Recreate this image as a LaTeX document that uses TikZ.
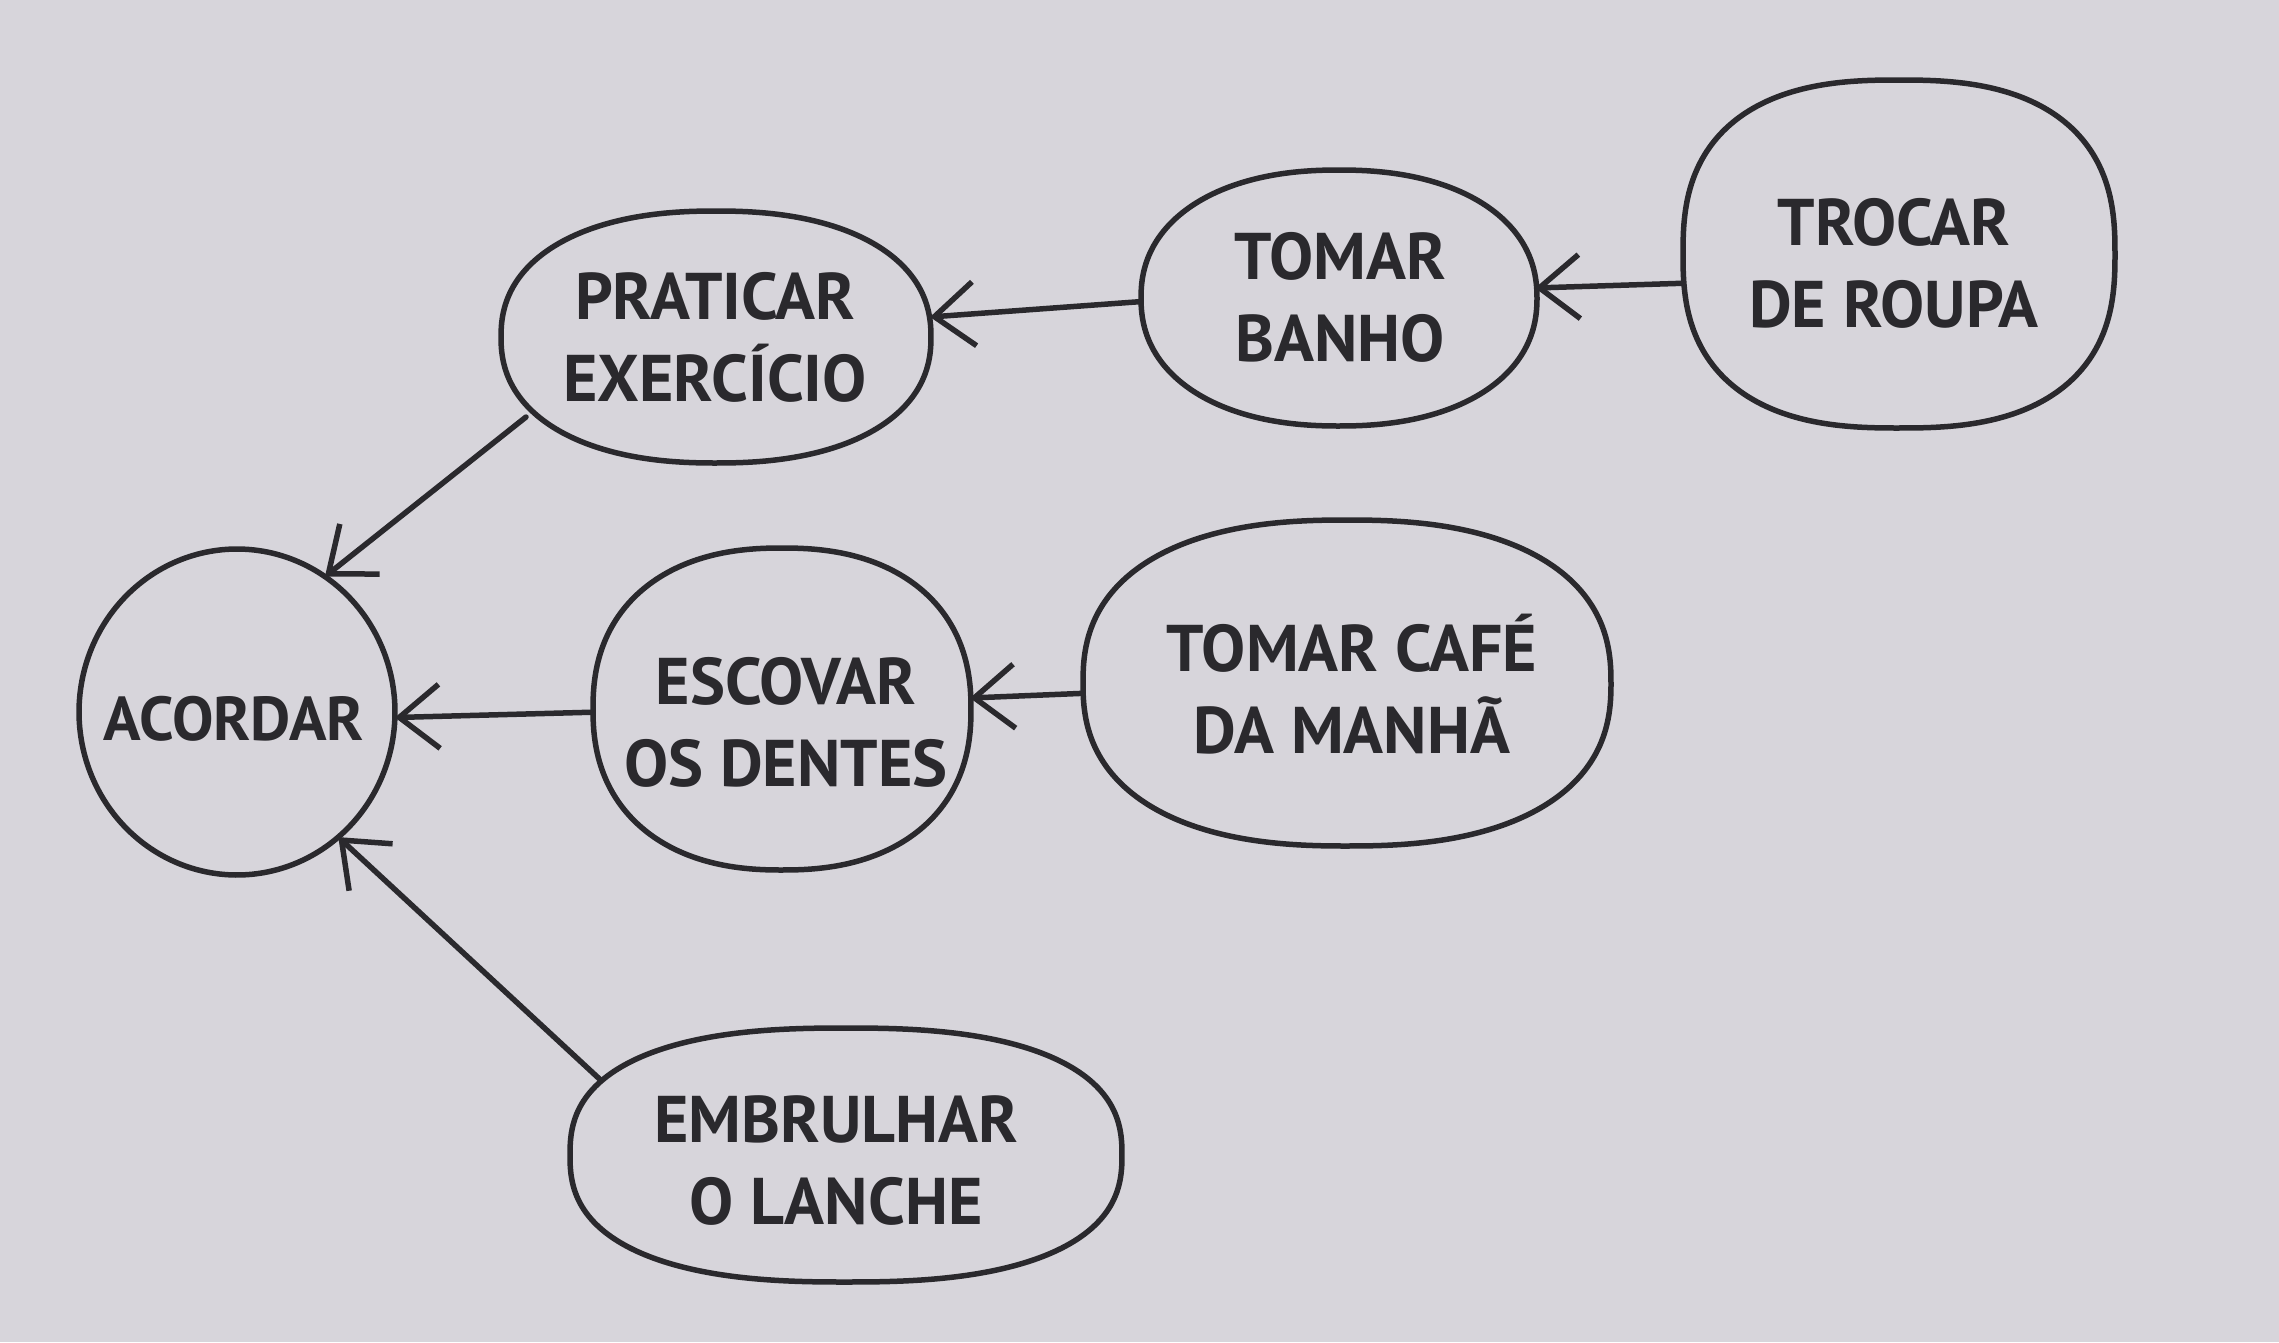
\documentclass[tikz,border=0pt]{standalone}
\usepackage{fontspec}
\setmainfont{PT Sans}
\usetikzlibrary{arrows.meta,calc,shapes.geometric}
\pgfdeclarelayer{bgl}
\pgfdeclarelayer{mid}
\pgfsetlayers{bgl,mid,main}
\definecolor{paper}{HTML}{D7D5DB}
\definecolor{ink}{HTML}{2A292D}
\tikzset{
  blobshape/.style={shape=ellipse, inner sep=0pt, outer sep=0pt, draw=none},
  txt/.style={align=center, font=\bfseries\fontsize{66}{82}\selectfont, text=ink, inner sep=0pt},
  conn/.style={draw=ink, line width=5.5pt, line cap=round,
    -{Straight Barb[length=40pt,width=64pt,line width=5.5pt]}},
  outline/.style={draw=ink, line width=5.5pt, fill=paper},
}
% node, rx, ry, exponent (2/n - 1)
\newcommand{\blobline}[4]{%
  \draw[outline, shift={(#1.center)}] plot[domain=0.5:357.5, samples=120, smooth cycle]
    ({#2*cos(\x)*abs(cos(\x))^(#4)}, {#3*sin(\x)*abs(sin(\x))^(#4)});
}
\begin{document}
\begin{tikzpicture}[x=1pt, y=-1pt]
\useasboundingbox (0,0) rectangle (2279,1342);
\begin{pgfonlayer}{bgl}
  \fill[paper] (0,0) rectangle (2279,1342);
\end{pgfonlayer}

% blob anchors
\node[blobshape, minimum width=316, minimum height=326] (acordar) at (237,712) {};
\node[blobshape, minimum width=430, minimum height=252] (praticar) at (716,337) {};
\node[blobshape, minimum width=396, minimum height=256] (banho) at (1339,298) {};
\node[blobshape, minimum width=432, minimum height=348] (trocar) at (1899,254) {};
\node[blobshape, minimum width=378, minimum height=322] (escovar) at (782,709) {};
\node[blobshape, minimum width=528, minimum height=326] (cafe) at (1347,683) {};
\node[blobshape, minimum width=552, minimum height=254] (embrulhar) at (846,1155) {};

% labels
\node[txt, font=\bfseries\fontsize{62}{82}\selectfont] (acordar-t) at (234,719) {ACORDAR};
\node[txt] (praticar-t) at (715,337) {PRATICAR\\EXERCÍCIO};
\node[txt] (banho-t) at (1340,297) {TOMAR\\BANHO};
\node[txt] (trocar-t) at (1894,263) {TROCAR\\DE ROUPA};
\node[txt] (escovar-t) at (786,722) {ESCOVAR\\OS DENTES};
\node[txt] (cafe-t) at (1352,684) {TOMAR CAFÉ\\DA MANHÃ};
\node[txt] (embrulhar-t) at (836,1161) {EMBRULHAR\\O LANCHE};

% outlines
\begin{pgfonlayer}{mid}
  \blobline{acordar}{158}{163}{0}
  \blobline{praticar}{215}{126}{-0.12}
  \blobline{banho}{198}{128}{-0.1}
  \blobline{trocar}{216}{174}{-0.22}
  \blobline{escovar}{189}{161}{-0.13}
  \blobline{cafe}{264}{163}{-0.17}
  \blobline{embrulhar}{276}{127}{-0.2}
\end{pgfonlayer}

% connectors
\begin{pgfonlayer}{bgl}
  \draw[conn] ($(praticar.center)+(-190,80)$) -- (acordar.57);
  \draw[conn] ($(banho.center)+(-190,3)$) -- ($(praticar.center)+(214,-20)$);
  \draw[conn] ($(trocar.center)+(-208,29)$) -- ($(banho.center)+(196,-10)$);
  \draw[conn] ($(escovar.center)+(-182,3)$) -- (acordar.-2);
  \draw[conn] ($(cafe.center)+(-256,10)$) -- ($(escovar.center)+(188,-11)$);
  \draw[conn] ($(embrulhar.center)+(-240,-70)$) -- (acordar.-51);
\end{pgfonlayer}
\end{tikzpicture}
\end{document}
